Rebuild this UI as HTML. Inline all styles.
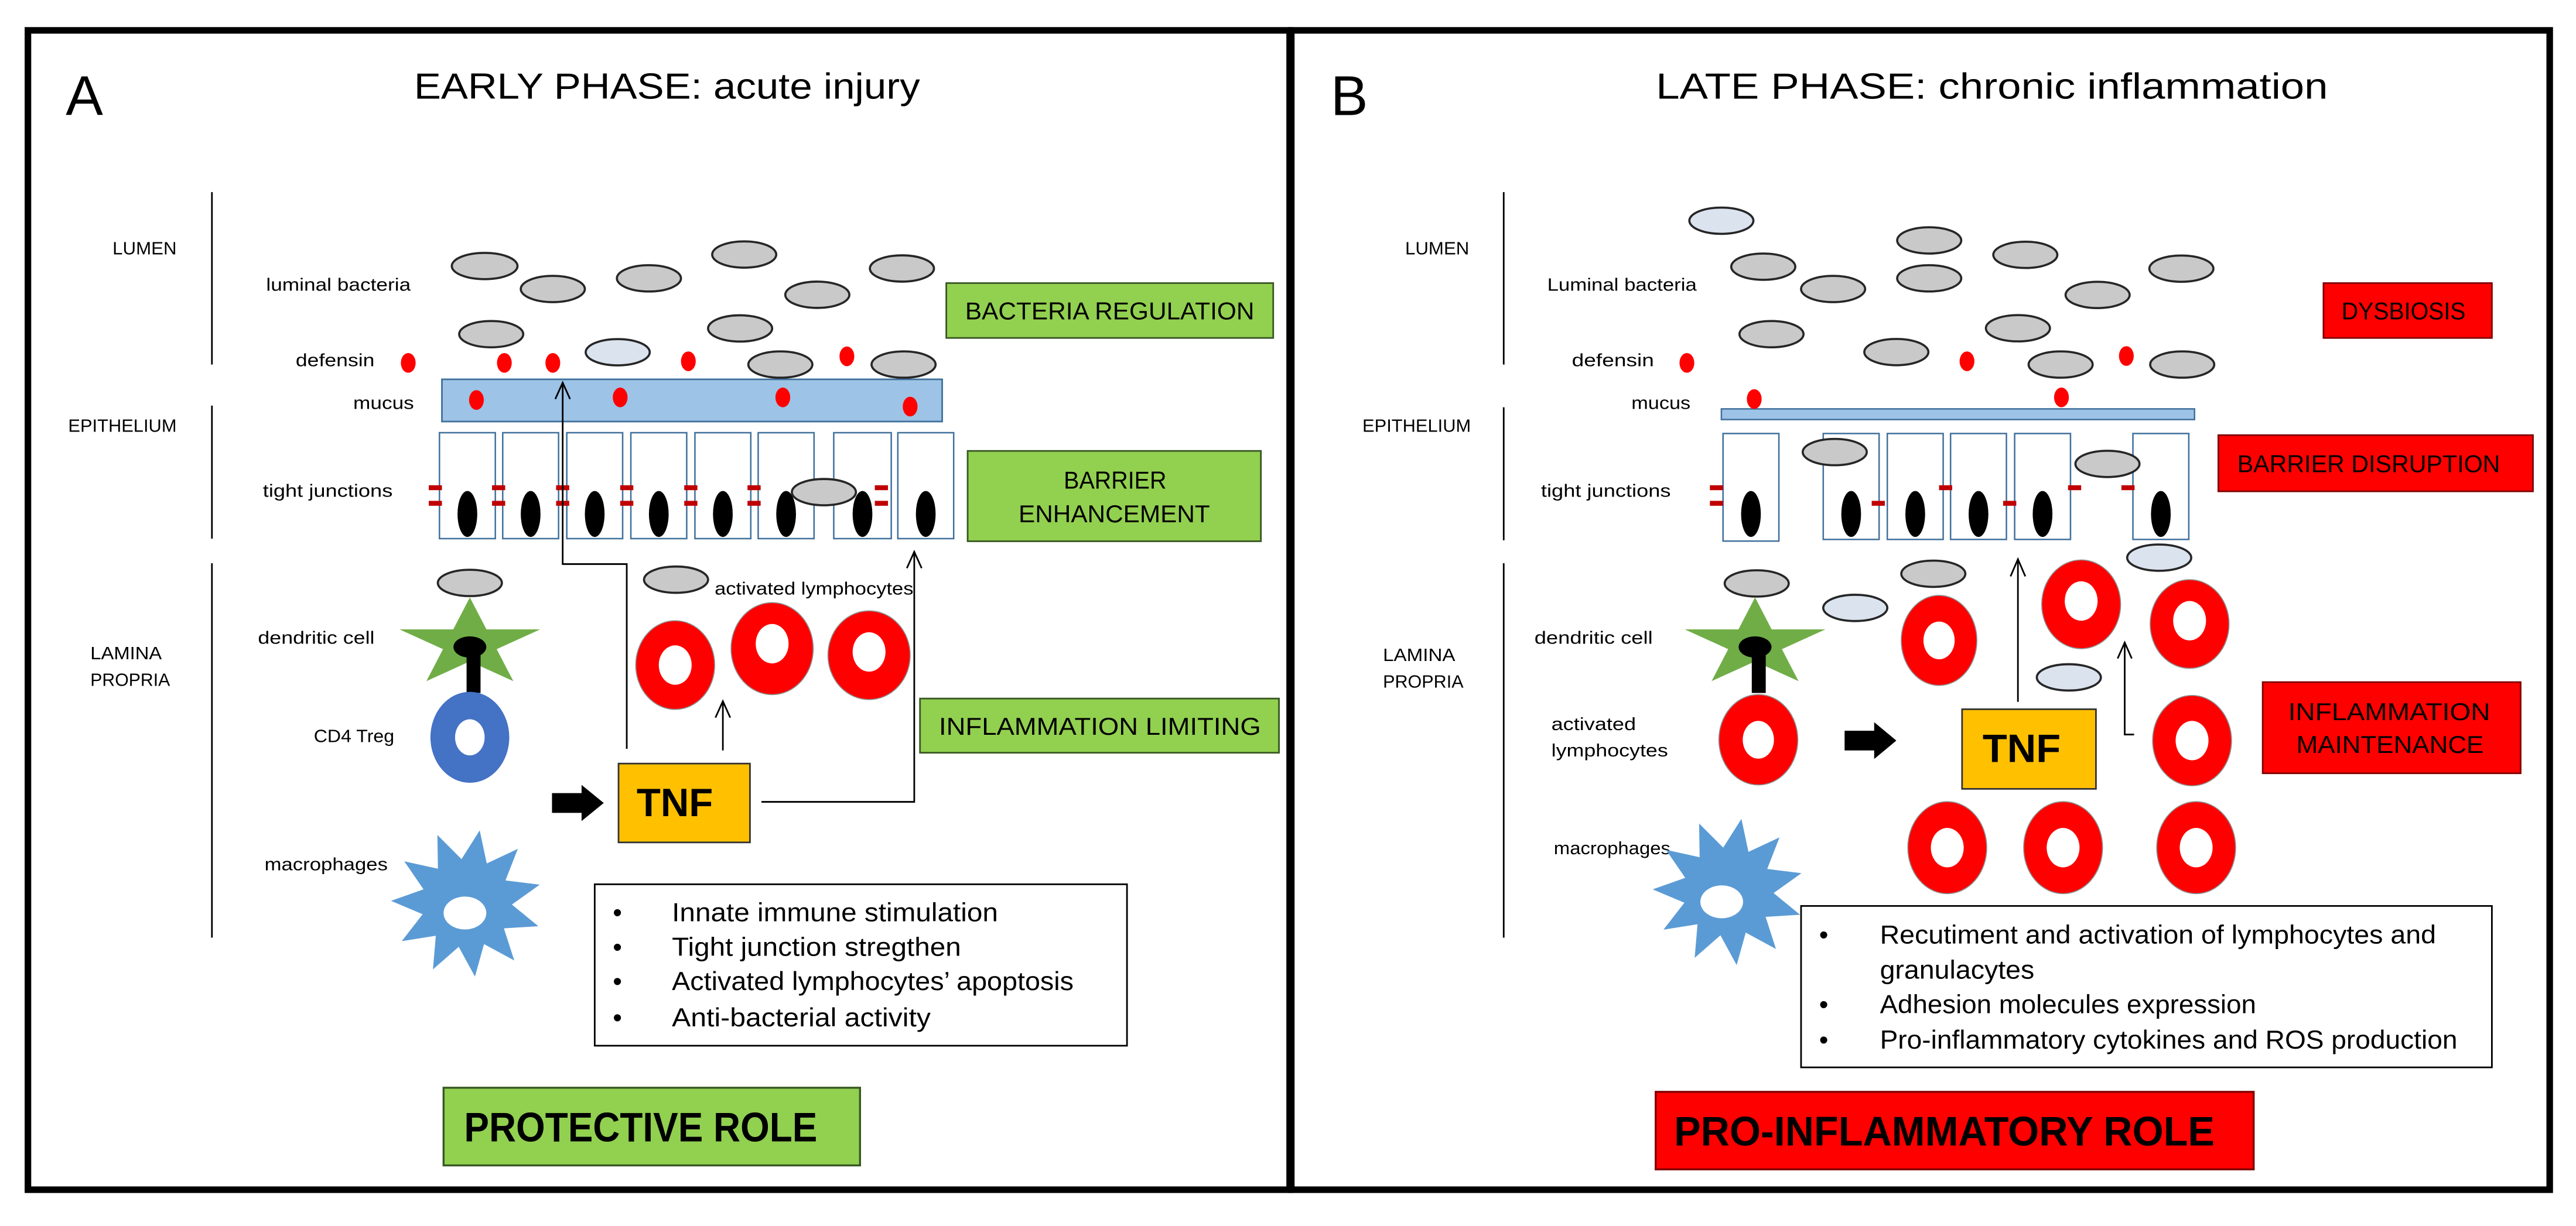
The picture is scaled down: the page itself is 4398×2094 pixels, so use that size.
<!DOCTYPE html>
<html><head><meta charset="utf-8"><style>
html,body{margin:0;padding:0;background:#fff}
svg{display:block}
text{font-family:"Liberation Sans Narrow","Liberation Sans",sans-serif;fill:#000}
.l{font-size:11px}
.b{font-size:16px}
.bx{font-size:15px;font-weight:normal}
.bac{fill:#c9c9c9;stroke:#262626;stroke-width:1.3}
.bacl{fill:#dbe3ef;stroke:#262626;stroke-width:1.3}
.def{fill:#ff0000}
.cell{fill:#fff;stroke:#41719c;stroke-width:0.9}
.nuc{fill:#000}
.tj{fill:#c00000}
.ln{stroke:#000;stroke-width:1;fill:none}
.ly{fill:#ff0000;stroke:#8c8c8c;stroke-width:0.6}
</style></head><body>
<svg width="4398" height="2094" viewBox="0 0 1568 746.6" preserveAspectRatio="none" xmlns="http://www.w3.org/2000/svg">
<defs>
<polygon id="star" points="0,-1 0.2245,-0.309 0.951,-0.309 0.363,0.118 0.588,0.809 0,0.382 -0.588,0.809 -0.363,0.118 -0.951,-0.309 -0.2245,-0.309"/>
<polygon id="mac" points="0.174,-0.985 0.267,-0.538 0.678,-0.735 0.515,-0.308 0.968,-0.25 0.6,0.019 0.95,0.312 0.494,0.341 0.631,0.776 0.231,0.554 0.111,0.994 -0.104,0.591 -0.445,0.896 -0.407,0.441 -0.858,0.514 -0.581,0.15 -1,-0.031 -0.57,-0.187 -0.824,-0.566 -0.379,-0.466 -0.386,-0.923 -0.067,-0.596"/>
</defs>
<rect x="0" y="0" width="1568" height="746.6" fill="#fff"/>
<rect x="17" y="18.5" width="768" height="706" fill="none" stroke="#000" stroke-width="4"/>
<rect x="786" y="18.5" width="766" height="706" fill="none" stroke="#000" stroke-width="4"/>

<text x="40" y="70" style="font-size:34px">A</text>
<text x="252" y="60" style="font-size:22px" textLength="308" lengthAdjust="spacingAndGlyphs">EARLY PHASE: acute injury</text>
<line x1="129" y1="117" x2="129" y2="222" class="ln"/>
<line x1="129" y1="247" x2="129" y2="328" class="ln"/>
<line x1="129" y1="343" x2="129" y2="571" class="ln"/>
<text class="l" x="68.5" y="155" textLength="39" lengthAdjust="spacingAndGlyphs">LUMEN</text>
<text class="l" x="41.5" y="263" textLength="66" lengthAdjust="spacingAndGlyphs">EPITHELIUM</text>
<text class="l" x="55" y="401.5" textLength="43.5" lengthAdjust="spacingAndGlyphs">LAMINA</text>
<text class="l" x="55" y="417.7" textLength="48.5" lengthAdjust="spacingAndGlyphs">PROPRIA</text>
<text class="l" x="162" y="177" textLength="88" lengthAdjust="spacingAndGlyphs">luminal bacteria</text>
<text class="l" x="180" y="223" textLength="48" lengthAdjust="spacingAndGlyphs">defensin</text>
<text class="l" x="215" y="249" textLength="37" lengthAdjust="spacingAndGlyphs">mucus</text>
<text class="l" x="160" y="302.5" textLength="79" lengthAdjust="spacingAndGlyphs">tight junctions</text>
<text class="l" x="157" y="392" textLength="71" lengthAdjust="spacingAndGlyphs">dendritic cell</text>
<text class="l" x="191" y="452" textLength="49" lengthAdjust="spacingAndGlyphs">CD4 Treg</text>
<text class="l" x="161" y="530" textLength="75" lengthAdjust="spacingAndGlyphs">macrophages</text>

<rect x="269" y="231" width="304.5" height="25.7" fill="#9dc3e6" stroke="#41719c" stroke-width="1"/>
<g>
<rect class="cell" x="267.5" y="263.5" width="34" height="64.5"/>
<rect class="cell" x="306" y="263.5" width="34" height="64.5"/>
<rect class="cell" x="345" y="263.5" width="34" height="64.5"/>
<rect class="cell" x="384" y="263.5" width="34" height="64.5"/>
<rect class="cell" x="423" y="263.5" width="34" height="64.5"/>
<rect class="cell" x="461.5" y="263.5" width="34" height="64.5"/>
<rect class="cell" x="507.5" y="263.5" width="35" height="64.5"/>
<rect class="cell" x="546.5" y="263.5" width="34" height="64.5"/>
<ellipse class="nuc" cx="284.5" cy="313" rx="6" ry="14"/>
<ellipse class="nuc" cx="323" cy="313" rx="6" ry="14"/>
<ellipse class="nuc" cx="362" cy="313" rx="6" ry="14"/>
<ellipse class="nuc" cx="401" cy="313" rx="6" ry="14"/>
<ellipse class="nuc" cx="440" cy="313" rx="6" ry="14"/>
<ellipse class="nuc" cx="478.5" cy="313" rx="6" ry="14"/>
<ellipse class="nuc" cx="525" cy="313" rx="6" ry="14"/>
<ellipse class="nuc" cx="563.5" cy="313" rx="6" ry="14"/>
</g>
<g class="tj">
<rect x="261" y="295.5" width="8" height="3"/><rect x="261" y="305" width="8" height="3"/>
<rect x="299.5" y="295.5" width="8" height="3"/><rect x="299.5" y="305" width="8" height="3"/>
<rect x="338.5" y="295.5" width="8" height="3"/><rect x="338.5" y="305" width="8" height="3"/>
<rect x="377.5" y="295.5" width="8" height="3"/><rect x="377.5" y="305" width="8" height="3"/>
<rect x="416.5" y="295.5" width="8" height="3"/><rect x="416.5" y="305" width="8" height="3"/>
<rect x="455" y="295.5" width="8" height="3"/><rect x="455" y="305" width="8" height="3"/>
<rect x="532.5" y="295.5" width="8" height="3"/><rect x="532.5" y="305" width="8" height="3"/>
</g>
<ellipse class="bac" cx="295" cy="162" rx="20" ry="8"/>
<ellipse class="bac" cx="336.5" cy="176" rx="19.5" ry="8"/>
<ellipse class="bac" cx="395" cy="169.5" rx="19.5" ry="8"/>
<ellipse class="bac" cx="453" cy="155" rx="19.5" ry="8"/>
<ellipse class="bac" cx="497.5" cy="179.5" rx="19.5" ry="8"/>
<ellipse class="bac" cx="549" cy="163.5" rx="19.5" ry="8"/>
<ellipse class="bac" cx="299" cy="203.5" rx="19.5" ry="8"/>
<ellipse class="bac" cx="450.5" cy="200" rx="19.5" ry="8"/>
<ellipse class="bacl" cx="376" cy="214.5" rx="19.5" ry="8"/>
<ellipse class="bac" cx="475" cy="222" rx="19.5" ry="8"/>
<ellipse class="bac" cx="550" cy="222" rx="19.5" ry="8"/>
<ellipse class="bac" cx="501.5" cy="299.7" rx="19.5" ry="8"/>
<ellipse class="bac" cx="286" cy="355" rx="19.5" ry="8"/>
<ellipse class="bac" cx="411.5" cy="353" rx="19.5" ry="8"/>
<g class="def">
<ellipse cx="248.5" cy="221" rx="4.5" ry="6"/>
<ellipse cx="307" cy="221" rx="4.5" ry="6"/>
<ellipse cx="336.5" cy="221" rx="4.5" ry="6"/>
<ellipse cx="419" cy="220" rx="4.5" ry="6"/>
<ellipse cx="515.5" cy="217" rx="4.5" ry="6"/>
<ellipse cx="290" cy="243.6" rx="4.5" ry="6"/>
<ellipse cx="377.5" cy="242" rx="4.5" ry="6"/>
<ellipse cx="476.5" cy="242" rx="4.5" ry="6"/>
<ellipse cx="554" cy="247.6" rx="4.5" ry="6"/>
</g>
<polyline class="ln" points="342.5,234 342.5,343.5 381.5,343.5 381.5,456"/>
<polyline class="ln" points="338,243 342.5,233 347,243"/>
<polyline class="ln" points="463.5,488.3 556.5,488.3 556.5,336"/>
<polyline class="ln" points="552,346 556.5,336 561,346"/>
<line class="ln" x1="440" y1="457" x2="440" y2="427"/>
<polyline class="ln" points="435.5,437 440,427 444.5,437"/>
<text class="l" x="435" y="362" textLength="121" lengthAdjust="spacingAndGlyphs">activated lymphocytes</text>
<ellipse class="ly" cx="411" cy="405" rx="24" ry="27"/><ellipse fill="#fff" cx="411" cy="405" rx="10" ry="12"/>
<ellipse class="ly" cx="470" cy="395" rx="25" ry="28"/><ellipse fill="#fff" cx="470" cy="392" rx="10" ry="12"/>
<ellipse class="ly" cx="529" cy="399" rx="25" ry="27"/><ellipse fill="#fff" cx="529" cy="397" rx="10" ry="12"/>
<use href="#star" transform="translate(286,392) scale(45,28.2)" fill="#70ad47"/>
<rect x="284" y="398" width="8.5" height="24" fill="#000"/>
<ellipse cx="286" cy="394" rx="10" ry="6.5" fill="#000"/>
<ellipse cx="286" cy="449" rx="24" ry="27.7" fill="#4472c4"/>
<ellipse cx="286" cy="449" rx="9" ry="11" fill="#fff"/>
<use href="#mac" transform="translate(284,550) scale(46,45)" fill="#5b9bd5"/>
<ellipse cx="283" cy="556" rx="13" ry="10" fill="#fff"/>
<polygon points="336,483 354,483 354,478 367.5,489 354,500 354,495 336,495" fill="#000"/>
<rect x="376.5" y="465" width="80" height="48" fill="#ffc000" stroke="#333" stroke-width="1"/>
<text x="387.5" y="497" style="font-size:24px;font-weight:bold" textLength="46.5" lengthAdjust="spacingAndGlyphs">TNF</text>
<rect x="576" y="172.4" width="199" height="33.4" fill="#92d050" stroke="#385723" stroke-width="1"/>
<text class="bx" x="587.5" y="194.5" textLength="176" lengthAdjust="spacingAndGlyphs">BACTERIA REGULATION</text>
<rect x="589" y="274.6" width="178.5" height="55" fill="#92d050" stroke="#385723" stroke-width="1"/>
<text class="bx" x="647.5" y="297.5" textLength="62.5" lengthAdjust="spacingAndGlyphs">BARRIER</text>
<text class="bx" x="620" y="318" textLength="116.5" lengthAdjust="spacingAndGlyphs">ENHANCEMENT</text>
<rect x="560" y="425.4" width="218.5" height="33" fill="#92d050" stroke="#385723" stroke-width="1"/>
<text class="bx" x="571.5" y="447.5" textLength="196" lengthAdjust="spacingAndGlyphs">INFLAMMATION LIMITING</text>
<rect x="362" y="538.5" width="324" height="98.3" fill="#fff" stroke="#000" stroke-width="1"/>
<g class="b">
<text x="373" y="561">•</text><text x="409" y="561" textLength="198.5" lengthAdjust="spacingAndGlyphs">Innate immune stimulation</text>
<text x="373" y="582">•</text><text x="409" y="582" textLength="176" lengthAdjust="spacingAndGlyphs">Tight junction stregthen</text>
<text x="373" y="603">•</text><text x="409" y="603" textLength="244.5" lengthAdjust="spacingAndGlyphs">Activated lymphocytes’ apoptosis</text>
<text x="373" y="625">•</text><text x="409" y="625" textLength="157.5" lengthAdjust="spacingAndGlyphs">Anti-bacterial activity</text>
</g>
<rect x="270" y="662.4" width="253.5" height="47.3" fill="#92d050" stroke="#385723" stroke-width="1.2"/>
<text x="282.5" y="695" style="font-size:25px;font-weight:bold" textLength="215" lengthAdjust="spacingAndGlyphs">PROTECTIVE ROLE</text>

<text x="810" y="70" style="font-size:34px">B</text>
<text x="1008" y="60" style="font-size:22px" textLength="409" lengthAdjust="spacingAndGlyphs">LATE PHASE: chronic inflammation</text>
<line x1="915.3" y1="117" x2="915.3" y2="222" class="ln"/>
<line x1="915.3" y1="248" x2="915.3" y2="329" class="ln"/>
<line x1="915.3" y1="343" x2="915.3" y2="571" class="ln"/>
<text class="l" x="855.3" y="155" textLength="39" lengthAdjust="spacingAndGlyphs">LUMEN</text>
<text class="l" x="829.3" y="263" textLength="66" lengthAdjust="spacingAndGlyphs">EPITHELIUM</text>
<text class="l" x="841.8" y="402.5" textLength="44" lengthAdjust="spacingAndGlyphs">LAMINA</text>
<text class="l" x="841.8" y="418.7" textLength="49" lengthAdjust="spacingAndGlyphs">PROPRIA</text>
<text class="l" x="941.8" y="177" textLength="91" lengthAdjust="spacingAndGlyphs">Luminal bacteria</text>
<text class="l" x="956.8" y="223" textLength="50" lengthAdjust="spacingAndGlyphs">defensin</text>
<text class="l" x="993" y="249" textLength="36" lengthAdjust="spacingAndGlyphs">mucus</text>
<text class="l" x="938" y="302.5" textLength="79" lengthAdjust="spacingAndGlyphs">tight junctions</text>
<text class="l" x="934" y="392" textLength="72" lengthAdjust="spacingAndGlyphs">dendritic cell</text>
<text class="l" x="944.3" y="444.6" textLength="51.5" lengthAdjust="spacingAndGlyphs">activated</text>
<text class="l" x="944.3" y="460.7" textLength="71" lengthAdjust="spacingAndGlyphs">lymphocytes</text>
<text class="l" x="945.8" y="520.2" textLength="71" lengthAdjust="spacingAndGlyphs">macrophages</text>

<rect x="1047.8" y="249" width="288" height="6.5" fill="#9dc3e6" stroke="#41719c" stroke-width="0.9"/>
<g>
<rect class="cell" x="1048.8" y="264" width="34" height="65.5"/>
<rect class="cell" x="1109.8" y="264" width="34" height="64.5"/>
<rect class="cell" x="1148.8" y="264" width="34" height="64.5"/>
<rect class="cell" x="1187.3" y="264" width="34" height="64.5"/>
<rect class="cell" x="1226.3" y="264" width="34" height="64.5"/>
<rect class="cell" x="1298.3" y="264" width="34" height="64.5"/>
<ellipse class="nuc" cx="1065.8" cy="313" rx="6" ry="14"/>
<ellipse class="nuc" cx="1126.8" cy="313" rx="6" ry="14"/>
<ellipse class="nuc" cx="1165.8" cy="313" rx="6" ry="14"/>
<ellipse class="nuc" cx="1204.3" cy="313" rx="6" ry="14"/>
<ellipse class="nuc" cx="1243.3" cy="313" rx="6" ry="14"/>
<ellipse class="nuc" cx="1315.3" cy="313" rx="6" ry="14"/>
</g>
<g class="tj">
<rect x="1040.8" y="295.5" width="8" height="3"/><rect x="1040.8" y="305" width="8" height="3"/>
<rect x="1139.3" y="305" width="8" height="3"/>
<rect x="1180.3" y="295.5" width="8" height="3"/>
<rect x="1219.3" y="305" width="8" height="3"/>
<rect x="1258.8" y="295.5" width="8" height="3"/>
<rect x="1291.3" y="295.5" width="8" height="3"/>
</g>
<ellipse class="bacl" cx="1047.8" cy="134.4" rx="19.5" ry="8"/>
<ellipse class="bac" cx="1073.3" cy="162.4" rx="19.5" ry="8"/>
<ellipse class="bac" cx="1115.8" cy="176" rx="19.5" ry="8"/>
<ellipse class="bac" cx="1174.3" cy="146.4" rx="19.5" ry="8"/>
<ellipse class="bac" cx="1174.3" cy="169.5" rx="19.5" ry="8"/>
<ellipse class="bac" cx="1232.8" cy="155.2" rx="19.5" ry="8"/>
<ellipse class="bac" cx="1276.8" cy="179.6" rx="19.5" ry="8"/>
<ellipse class="bac" cx="1327.8" cy="163.6" rx="19.5" ry="8"/>
<ellipse class="bac" cx="1078.3" cy="203.5" rx="19.5" ry="8"/>
<ellipse class="bac" cx="1228.3" cy="199.9" rx="19.5" ry="8"/>
<ellipse class="bac" cx="1154.3" cy="214.4" rx="19.5" ry="8"/>
<ellipse class="bac" cx="1254.3" cy="222" rx="19.5" ry="8"/>
<ellipse class="bac" cx="1328.3" cy="222" rx="19.5" ry="8"/>
<ellipse class="bac" cx="1116.8" cy="275.3" rx="19.5" ry="8"/>
<ellipse class="bac" cx="1282.8" cy="282.5" rx="19.5" ry="8"/>
<ellipse class="bac" cx="1176.8" cy="349.4" rx="19.5" ry="8"/>
<ellipse class="bac" cx="1069.3" cy="355.3" rx="19.5" ry="8"/>
<g class="def">
<ellipse cx="1026.8" cy="221" rx="4.5" ry="6"/>
<ellipse cx="1197.3" cy="220" rx="4.5" ry="6"/>
<ellipse cx="1294.3" cy="216.8" rx="4.5" ry="6"/>
<ellipse cx="1067.8" cy="243" rx="4.5" ry="6"/>
<ellipse cx="1254.8" cy="242" rx="4.5" ry="6"/>
</g>
<ellipse class="ly" cx="1266.8" cy="368" rx="24" ry="27"/><ellipse fill="#fff" cx="1266.8" cy="366" rx="10" ry="12"/>
<ellipse class="ly" cx="1332.8" cy="380" rx="24" ry="27"/><ellipse fill="#fff" cx="1332.8" cy="378" rx="10" ry="12"/>
<ellipse class="ly" cx="1180.3" cy="390" rx="23" ry="27.4"/><ellipse fill="#fff" cx="1180.3" cy="390" rx="9.5" ry="11.5"/>
<ellipse class="ly" cx="1334.3" cy="451" rx="24" ry="27.5"/><ellipse fill="#fff" cx="1334.3" cy="451" rx="10" ry="12"/>
<ellipse class="ly" cx="1070.3" cy="450.5" rx="24" ry="27.5"/><ellipse fill="#fff" cx="1070.3" cy="450.5" rx="9.5" ry="11.5"/>
<ellipse class="ly" cx="1185.3" cy="516.2" rx="24" ry="28"/><ellipse fill="#fff" cx="1185.3" cy="516.2" rx="10" ry="12"/>
<ellipse class="ly" cx="1255.8" cy="516.2" rx="24" ry="28"/><ellipse fill="#fff" cx="1255.8" cy="516.2" rx="10" ry="12"/>
<ellipse class="ly" cx="1336.8" cy="516.2" rx="24" ry="28"/><ellipse fill="#fff" cx="1336.8" cy="516.2" rx="10" ry="12"/>
<ellipse class="bacl" cx="1314.3" cy="339.6" rx="19.5" ry="8"/>
<ellipse class="bacl" cx="1129.3" cy="370.2" rx="19.5" ry="8"/>
<ellipse class="bacl" cx="1259.3" cy="412.5" rx="19.5" ry="8"/>
<use href="#star" transform="translate(1068.3,392) scale(45,28.2)" fill="#70ad47"/>
<rect x="1066.3" y="398" width="8.5" height="24" fill="#000"/>
<ellipse cx="1068.3" cy="394" rx="10" ry="6.5" fill="#000"/>
<use href="#mac" transform="translate(1052,543) scale(46,45)" fill="#5b9bd5"/>
<ellipse cx="1048" cy="549.2" rx="13" ry="10" fill="#fff"/>
<polygon points="1122.8,445 1140.8,445 1140.8,439.8 1154.3,451 1140.8,462.2 1140.8,457 1122.8,457" fill="#000"/>
<rect x="1194.3" y="431.9" width="81.5" height="48.5" fill="#ffc000" stroke="#333" stroke-width="1"/>
<text x="1206.8" y="464" style="font-size:24px;font-weight:bold" textLength="47.5" lengthAdjust="spacingAndGlyphs">TNF</text>
<line class="ln" x1="1228.3" y1="427.4" x2="1228.3" y2="341"/>
<polyline class="ln" points="1223.8,351 1228.3,340.5 1232.8,351"/>
<polyline class="ln" points="1299,447.3 1293.3,447.3 1293.3,392"/>
<polyline class="ln" points="1289,401 1293.3,391.3 1297.6,401"/>
<rect x="1414.3" y="172.4" width="102.5" height="33.4" fill="#ff0000" stroke="#7f0000" stroke-width="1"/>
<text class="bx" x="1425.3" y="194.5" textLength="75.5" lengthAdjust="spacingAndGlyphs">DYSBIOSIS</text>
<rect x="1350.3" y="265" width="191.5" height="34.2" fill="#ff0000" stroke="#7f0000" stroke-width="1"/>
<text class="bx" x="1361.8" y="287.5" textLength="160" lengthAdjust="spacingAndGlyphs">BARRIER DISRUPTION</text>
<rect x="1377.3" y="415.4" width="157" height="55.5" fill="#ff0000" stroke="#7f0000" stroke-width="1"/>
<text class="bx" x="1392.8" y="438.6" textLength="123" lengthAdjust="spacingAndGlyphs">INFLAMMATION</text>
<text class="bx" x="1397.8" y="458.5" textLength="114" lengthAdjust="spacingAndGlyphs">MAINTENANCE</text>
<rect x="1096.3" y="551.7" width="420.5" height="98.3" fill="#fff" stroke="#000" stroke-width="1"/>
<g class="b">
<text x="1107.3" y="574.5">•</text><text x="1144.3" y="574.5" textLength="338.5" lengthAdjust="spacingAndGlyphs">Recutiment and activation of lymphocytes and</text>
<text x="1144.3" y="596" textLength="94" lengthAdjust="spacingAndGlyphs">granulacytes</text>
<text x="1107.3" y="617">•</text><text x="1144.3" y="617" textLength="229" lengthAdjust="spacingAndGlyphs">Adhesion molecules expression</text>
<text x="1107.3" y="638.5">•</text><text x="1144.3" y="638.5" textLength="351.5" lengthAdjust="spacingAndGlyphs">Pro-inflammatory cytokines and ROS production</text>
</g>
<rect x="1007.8" y="664.9" width="364" height="47.2" fill="#ff0000" stroke="#7f0000" stroke-width="1.2"/>
<text x="1019" y="697.5" style="font-size:25px;font-weight:bold" textLength="329" lengthAdjust="spacingAndGlyphs">PRO-INFLAMMATORY ROLE</text>
</svg>
</body></html>
